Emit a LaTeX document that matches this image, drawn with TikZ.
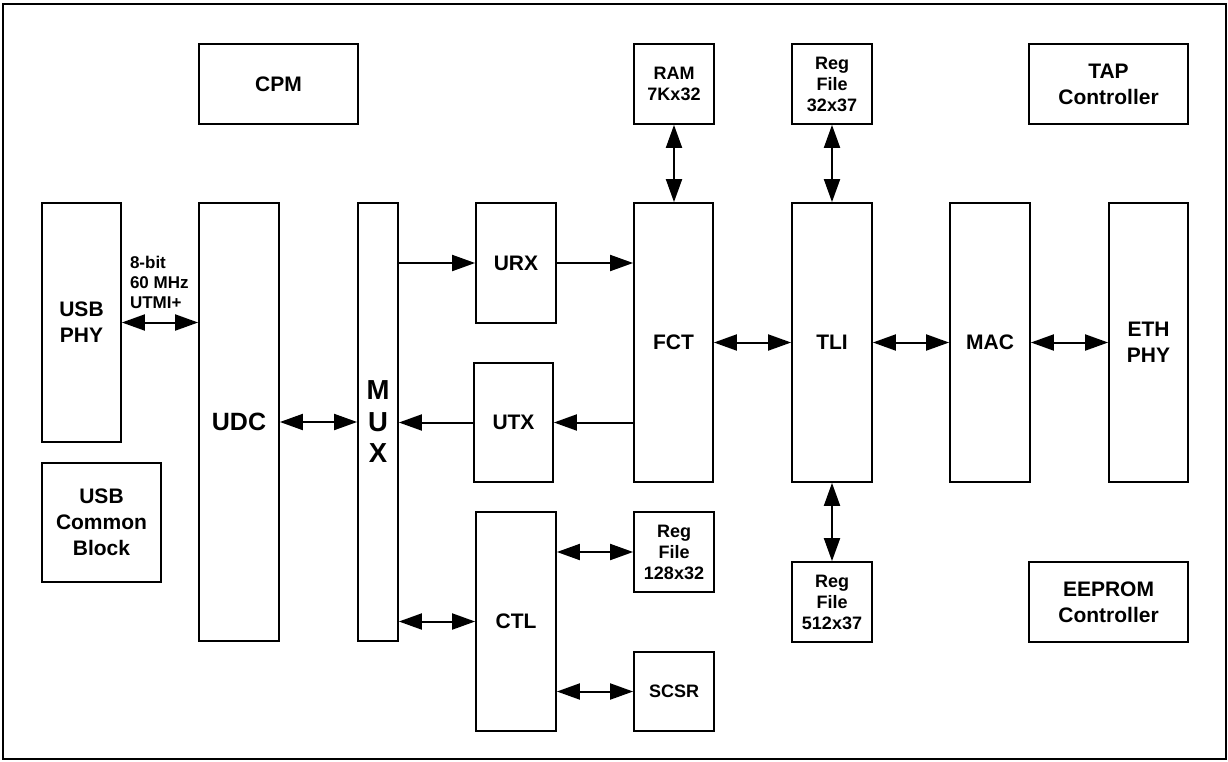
\documentclass[tikz,border=0pt]{standalone}
\usepackage{fontspec}
\setmainfont{Liberation Sans}
\usetikzlibrary{arrows.meta}

\begin{document}
\begin{tikzpicture}[x=1pt, y=-1pt, line width=2pt,
    blk/.style={draw, line width=1.8pt, inner sep=0pt, align=center,
        font=\fontsize{21}{26}\selectfont\bfseries},
    small/.style={font=\fontsize{18}{21}\selectfont\bfseries},
    onearrow/.style={-{Triangle[length=23pt,width=16pt]}},
    twoarrow/.style={{Triangle[length=23pt,width=16pt]}-{Triangle[length=23pt,width=16pt]}}]
    \useasboundingbox (0,0) rectangle (1228,761);

    % ==== 外框 ====
    \draw (3,4) rectangle (1226,759);

    % ==== 左侧：USB 部分 ====
    \node[blk, minimum width=159pt, minimum height=80pt] (cpm) at (278.5,84) {CPM};
    \node[blk, minimum width=79pt, minimum height=239pt] (phy) at (81.5,322.5) {USB\\PHY};
    \node[blk, minimum width=119pt, minimum height=119pt] (ucb) at (101.5,522.5) {USB\\Common\\Block};
    \node[blk, minimum width=80pt, minimum height=438pt,
        font=\fontsize{25}{30}\selectfont\bfseries] (udc) at (239,422) {UDC};
    \node[blk, minimum width=40pt, minimum height=438pt,
        font=\fontsize{27.5}{31.5}\selectfont\bfseries] (mux) at (378,422) {M\\U\\X};
    \node[small, align=left, anchor=west, inner sep=0pt,
        font=\fontsize{17}{20}\selectfont\bfseries] (buslbl) at (129,282) {8-bit\\60 MHz\\UTMI+};

    % ==== 中间：URX / UTX / CTL ====
    \node[blk, minimum width=80pt, minimum height=120pt] (urx) at (516,263) {URX};
    \node[blk, minimum width=79pt, minimum height=119pt] (utx) at (513.5,422.5) {UTX};
    \node[blk, minimum width=80pt, minimum height=219pt] (ctl) at (516,621.5) {CTL};
    \node[blk, small, minimum width=80pt, minimum height=80pt] (rf128) at (674,552) {Reg\\File\\128x32};
    \node[blk, small, minimum width=80pt, minimum height=79pt] (scsr) at (674,691.5) {SCSR};

    % ==== FCT / TLI ====
    \node[blk, minimum width=79pt, minimum height=279pt] (fct) at (673.5,342.5) {FCT};
    \node[blk, small, minimum width=80pt, minimum height=80pt] (ram) at (674,84) {RAM\\7Kx32};
    \node[blk, minimum width=80pt, minimum height=279pt] (tli) at (832,342.5) {TLI};
    \node[blk, small, minimum width=80pt, minimum height=80pt] (rf32) at (832,84) {Reg\\File\\32x37};
    \node[blk, small, minimum width=80pt, minimum height=80pt] (rf512) at (832,602) {Reg\\File\\512x37};

    % ==== 右侧：以太网部分 ====
    \node[blk, minimum width=80pt, minimum height=279pt] (mac) at (990,342.5) {MAC};
    \node[blk, minimum width=79pt, minimum height=279pt] (eth) at (1148.5,342.5) {ETH\\PHY};
    \node[blk, minimum width=159pt, minimum height=80pt] (tap) at (1108.5,84) {TAP\\Controller};
    \node[blk, minimum width=159pt, minimum height=80pt] (eeprom) at (1108.5,602) {EEPROM\\Controller};

    % ==== 连线 ====
    \draw[twoarrow] (phy.east) -- (phy.east -| udc.west);
    \draw[twoarrow] (udc.east) -- (udc.east -| mux.west);
    \draw[onearrow] (urx.west -| mux.east) -- (urx.west);
    \draw[onearrow] (urx.east) -- (urx.east -| fct.west);
    \draw[onearrow] (utx.east -| fct.west) -- (utx.east);
    \draw[onearrow] (utx.west) -- (utx.west -| mux.east);
    \draw[twoarrow] (ctl.west -| mux.east) -- (ctl.west);
    \draw[twoarrow] (ctl.east |- rf128) -- (rf128.west);
    \draw[twoarrow] (ctl.east |- scsr) -- (scsr.west);
    \draw[twoarrow] (fct.east) -- (fct.east -| tli.west);
    \draw[twoarrow] (tli.east) -- (tli.east -| mac.west);
    \draw[twoarrow] (mac.east) -- (mac.east -| eth.west);
    \draw[twoarrow] (ram.south) -- (ram.south |- fct.north);
    \draw[twoarrow] (rf32.south) -- (rf32.south |- tli.north);
    \draw[twoarrow] (tli.south) -- (tli.south |- rf512.north);
\end{tikzpicture}
\end{document}
